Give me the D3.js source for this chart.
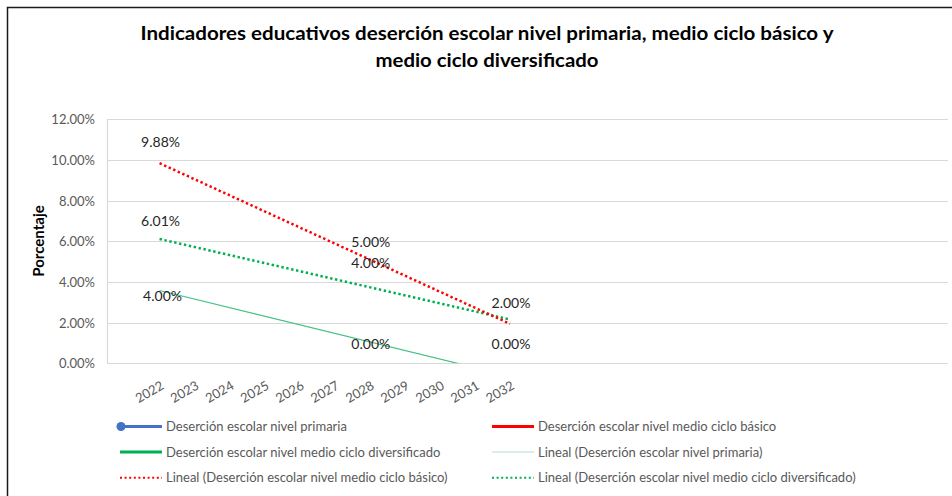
<!DOCTYPE html>
<html>
<head>
<meta charset="utf-8">
<script src="https://cdn.jsdelivr.net/npm/d3@7/dist/d3.min.js"></script>
<style>
  html, body { margin: 0; padding: 0; background: #fff; }
  svg { display: block; }
  text { font-family: Lato, "Open Sans", sans-serif; }
</style>
</head>
<body>
<svg id="chart" width="952" height="496"></svg>
<script>
// ---------- data ----------
const years = ["2022","2023","2024","2025","2026","2027","2028","2029","2030","2031","2032"];
const primaria      = [4.00, null, null, null, null, null, 0.00, null, null, null, 0.00];
const basico        = [9.88, null, null, null, null, null, 5.00, null, null, null, 2.00];
const diversificado = [6.01, null, null, null, null, null, 4.00, null, null, null, 2.00];
const yTicks = [0, 2, 4, 6, 8, 10, 12];
const titleLines = ["Indicadores educativos deserción escolar nivel primaria, medio ciclo básico y", "medio ciclo diversificado"];
const seriesNames = ["Deserción escolar nivel primaria", "Deserción escolar nivel medio ciclo básico", "Deserción escolar nivel medio ciclo diversificado"];

// ---------- layout ----------
const svg = d3.select("#chart");
const plot = { left: 107, right: 948, top: 119.3, bottom: 363.3 };
const slotCount = 24;
const band = d3.scaleBand().domain(d3.range(slotCount)).range([plot.left, plot.right]);
const x = i => band(i + 1) + band.bandwidth() / 2;
const y = d3.scaleLinear().domain([0, 12]).range([plot.bottom, plot.top]);

// frame
svg.append("rect").attr("x", 7.5).attr("y", 7.5).attr("width", 1000).attr("height", 1000)
  .attr("fill", "none").attr("stroke", "#1a1a1a").attr("stroke-width", 1.5);

// title
svg.append("text").attr("x", 487).attr("y", 40).attr("text-anchor", "middle")
  .attr("font-size", 18.5).attr("font-weight", "bold").attr("fill", "#000")
  .attr("textLength", 693).attr("lengthAdjust", "spacingAndGlyphs").text(titleLines[0]);
svg.append("text").attr("x", 487).attr("y", 67).attr("text-anchor", "middle")
  .attr("font-size", 18.5).attr("font-weight", "bold").attr("fill", "#000")
  .attr("textLength", 223).attr("lengthAdjust", "spacingAndGlyphs").text(titleLines[1]);

// gridlines
svg.append("g").selectAll("line").data(yTicks).join("line")
  .attr("x1", plot.left).attr("x2", plot.right)
  .attr("y1", d => Math.round(y(d)) + 0.5).attr("y2", d => Math.round(y(d)) + 0.5)
  .attr("stroke", "#d9d9d9").attr("stroke-width", 1.2);
svg.append("line").attr("x1", plot.left + 0.5).attr("x2", plot.left + 0.5)
  .attr("y1", plot.top).attr("y2", plot.bottom).attr("stroke", "#d9d9d9").attr("stroke-width", 1.2);

// y axis
const yAxis = svg.append("g").attr("transform", `translate(${plot.left - 12},0)`)
  .call(d3.axisLeft(y).tickValues(yTicks).tickSize(0).tickFormat(d => d.toFixed(2) + "%"));
yAxis.select(".domain").remove();
yAxis.selectAll("text").attr("font-family", "Lato, sans-serif").attr("font-size", 13).attr("fill", "#595959").attr("dy", "0.35em").attr("x", 0);

// y title
svg.append("text").attr("transform", `translate(44,241) rotate(-90)`).attr("text-anchor", "middle")
  .attr("font-size", 15).attr("font-weight", "bold").attr("fill", "#000").text("Porcentaje");

// x axis labels
const xAxis = svg.append("g").attr("transform", `translate(0,${plot.bottom})`)
  .call(d3.axisBottom(band).tickValues(d3.range(1, years.length + 1)).tickSize(0).tickFormat(i => years[i - 1]));
xAxis.select(".domain").remove();
xAxis.selectAll(".tick text")
  .attr("font-family", "Lato, sans-serif").attr("font-size", 13).attr("fill", "#595959")
  .attr("text-anchor", "end").attr("dy", "0.35em").attr("y", 0)
  .attr("transform", "translate(3,21) rotate(-30)");

// clip
svg.append("clipPath").attr("id", "plotclip").append("rect")
  .attr("x", plot.left).attr("y", plot.top - 30).attr("width", plot.right - plot.left).attr("height", plot.bottom - plot.top + 30);

const series = [
  { name: seriesNames[0], values: primaria, color: "#4472C4",
    trend: { color: "#45c183", width: 1.2, dash: null, legendColor: "#c8ecd9" } },
  { name: seriesNames[1], values: basico, color: "#FF0000",
    trend: { color: "#FF0000", width: 2.5, dash: "2.4,2.6", legendColor: "#FF0000" } },
  { name: seriesNames[2], values: diversificado, color: "#00B050",
    trend: { color: "#00B050", width: 2.5, dash: "2.4,2.6", legendColor: "#00B050" } }
];

// linear regression trendlines (Excel "Lineal") using category index
function regression(vals) {
  const pts = vals.map((v, i) => [i, v]).filter(p => p[1] != null);
  const mx = d3.mean(pts, p => p[0]), my = d3.mean(pts, p => p[1]);
  const sxy = d3.sum(pts, p => (p[0] - mx) * (p[1] - my));
  const sxx = d3.sum(pts, p => (p[0] - mx) ** 2);
  const b = sxy / sxx, a = my - b * mx;
  return i => a + b * i;
}

const g = svg.append("g").attr("clip-path", "url(#plotclip)");
const lineGen = d3.line().defined(d => d.v != null).x(d => x(d.i)).y(d => y(d.v));

// series lines (gapped: isolated points draw no segment)
series.forEach(s => {
  g.append("path").datum(s.values.map((v, i) => ({ i, v })))
    .attr("d", lineGen).attr("fill", "none").attr("stroke", s.color).attr("stroke-width", 2.5);
});

// trendlines, drawn in order: primaria, diversificado, basico
[0, 2, 1].forEach(k => {
  const s = series[k];
  const f = regression(s.values);
  const ends = [0, years.length - 1].map(i => ({ i, v: f(i) }));
  g.append("path").datum(ends).attr("d", lineGen).attr("fill", "none")
    .attr("stroke", s.trend.color).attr("stroke-width", s.trend.width)
    .attr("stroke-dasharray", s.trend.dash);
});

// data labels (identical overlapping labels drawn once)
const labelDy = [[14, -19, -19], [-20, -20, -20], [-20, -19, -20]];
const seen = new Set();
series.forEach((s, k) => {
  let n = 0;
  s.values.forEach((v, i) => {
    if (v == null) return;
    const dy = labelDy[k][n++];
    const lx = x(i) + (k === 0 && i === 0 ? 3 : 1), ly = y(v) + dy;
    const key = Math.round(lx) + "|" + Math.round(ly) + "|" + v;
    if (seen.has(key)) return;
    seen.add(key);
    svg.append("text").attr("x", lx).attr("y", ly)
      .attr("text-anchor", "middle").attr("dy", "0.35em")
      .attr("font-size", 14).attr("fill", "#262626").text(v.toFixed(2) + "%");
  });
});

// legend
const legendItems = [
  { label: seriesNames[0], col: 0, row: 0, type: "marker", color: "#4472C4" },
  { label: seriesNames[1], col: 1, row: 0, type: "solid", color: "#FF0000" },
  { label: seriesNames[2], col: 0, row: 1, type: "solid", color: "#00B050" },
  { label: "Lineal (" + seriesNames[0] + ")", col: 1, row: 1, type: "thin", color: series[0].trend.legendColor },
  { label: "Lineal (" + seriesNames[1] + ")", col: 0, row: 2, type: "dot", color: "#FF0000" },
  { label: "Lineal (" + seriesNames[2] + ")", col: 1, row: 2, type: "dot", color: "#00B050" }
];
const colX = [120, 492], rowY = [426.5, 452, 477.7];
const lg = svg.append("g");
legendItems.forEach(it => {
  const lx = colX[it.col], ly = rowY[it.row];
  const item = lg.append("g");
  const ln = item.append("line").attr("x1", lx).attr("x2", lx + 42).attr("y1", ly).attr("y2", ly)
    .attr("stroke", it.color);
  if (it.type === "marker" || it.type === "solid") ln.attr("stroke-width", 3);
  if (it.type === "thin") ln.attr("stroke-width", 1.5);
  if (it.type === "dot") ln.attr("stroke-width", 2).attr("stroke-dasharray", "2,2.6");
  if (it.type === "marker") item.append("circle").attr("cx", lx + 1).attr("cy", ly).attr("r", 4.5).attr("fill", it.color);
  item.append("text").attr("x", lx + 46).attr("y", ly).attr("dy", "0.35em")
    .attr("font-size", 13).attr("fill", "#595959").text(it.label);
});
</script>
</body>
</html>
